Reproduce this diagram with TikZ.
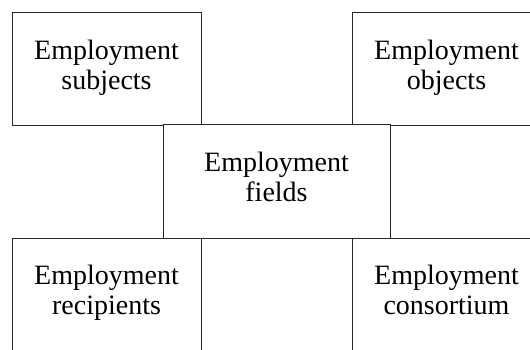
\documentclass[tikz,border=0pt]{standalone}
\usepackage{fontspec}
\setmainfont{Liberation Serif}
\begin{document}
\begin{tikzpicture}[x=1pt,y=-1pt]
		\tikzstyle{field}=[draw=black!85,line width=0.9pt,fill=white,align=center,inner sep=0pt,minimum width=189pt,minimum height=113pt,font=\fontsize{28}{30}\selectfont,execute at end node=\strut]
		
		\useasboundingbox (0,0) rectangle (530,350);
		\clip (0,0) rectangle (530,350);
		
		\node[field] (subj) at (106.5,69) {Employment\\subjects};
		\node[field] (obj) at (446.5,69) {Employment\\objects};
		\node[field,minimum width=227pt,minimum height=114pt] (fld) at (276.5,181) {Employment\\fields};
		\node[field] (rec) at (106.5,294.5) {Employment\\recipients};
		\node[field] (cons) at (446.5,294.5) {Employment\\consortium};
	\end{tikzpicture}
\end{document}
